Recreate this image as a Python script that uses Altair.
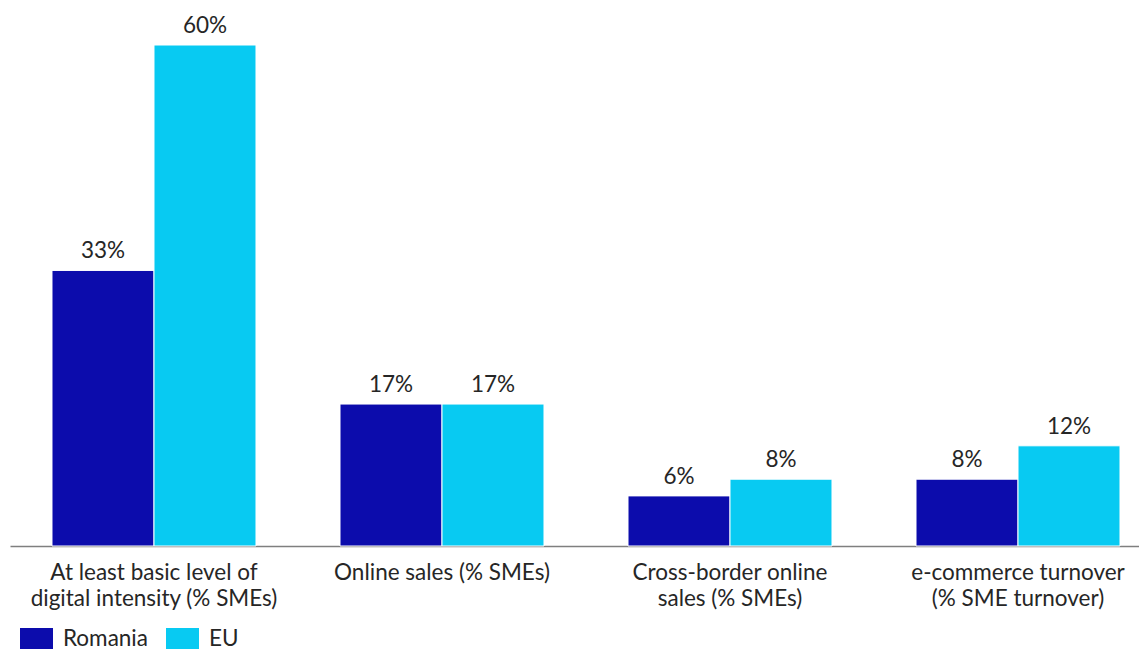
import altair as alt
import pandas as pd

categories = [
    "At least basic level of|digital intensity (% SMEs)",
    "Online sales (% SMEs)",
    "Cross-border online|sales (% SMEs)",
    "e-commerce turnover|(% SME turnover)",
]
series = ["Romania", "EU"]
romania = [33, 17, 6, 8]
eu = [60, 17, 8, 12]
colors = ["#0C0CAC", "#08CAF2"]

rows = []
for c, r, e in zip(categories, romania, eu):
    rows.append({"cat": c, "series": "Romania", "value": r, "label": f"{r}%"})
    rows.append({"cat": c, "series": "EU", "value": e, "label": f"{e}%"})
df = pd.DataFrame(rows)

FONT = "Lato"
FS = 22.5

x = alt.X(
    "cat:N",
    sort=categories,
    scale=alt.Scale(paddingInner=0.2917, paddingOuter=0.1059, align=0.6885),
    axis=alt.Axis(
        title=None,
        ticks=False,
        labelAngle=0,
        labelExpr="split(datum.label, '|')",
        labelFont=FONT,
        labelFontSize=FS,
        labelColor="#262626",
        labelLineHeight=26,
        labelPadding=33,
        labelBaseline="alphabetic",
        labelLimit=500,
        domainColor="#7F7F7F",
        domainWidth=1.5,
        grid=False,
    ),
)
xo = alt.XOffset("series:N", sort=series, scale=alt.Scale(paddingInner=0, paddingOuter=0))
y = alt.Y("value:Q", scale=alt.Scale(domain=[0, 60], nice=False, zero=True), axis=None)

bars = alt.Chart(df).mark_bar(stroke="white", strokeWidth=1).encode(
    x=x,
    xOffset=xo,
    y=y,
    color=alt.Color(
        "series:N",
        sort=series,
        scale=alt.Scale(domain=series, range=colors),
        legend=alt.Legend(
            title=None,
            orient="none",
            legendX=10,
            legendY=577,
            direction="horizontal",
            symbolType="M-1,-0.64H1V0.64H-1Z",
            symbolSize=1089,
            symbolStrokeWidth=0,
            symbolOpacity=1,
            labelFont=FONT,
            labelFontSize=FS,
            labelColor="#262626",
            labelOffset=10,
            columnPadding=18,
        ),
    ),
)

labels = alt.Chart(df).mark_text(
    font=FONT, fontSize=FS, color="#262626", baseline="alphabetic", dy=-12
).encode(x=x, xOffset=xo, y=y, text="label:N")

chart = (
    alt.layer(bars, labels)
    .properties(
        width=1129,
        height=501,
        padding={"left": 2, "top": 37, "right": 0, "bottom": 106},
        autosize=alt.AutoSizeParams(type="none"),
    )
    .configure_view(stroke=None)
)

chart.save("out.html", embed_options={"renderer": "svg", "actions": False})
